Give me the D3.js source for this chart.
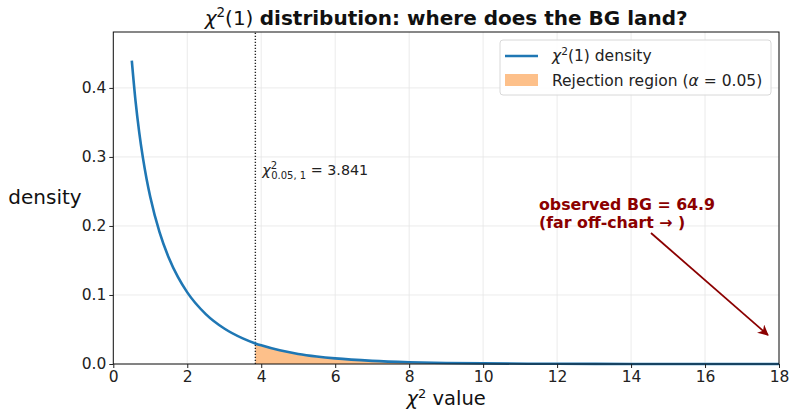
<!DOCTYPE html>
<html lang="en">
<head>
<meta charset="UTF-8">
<title>chi2 chart</title>
<script src="https://cdn.jsdelivr.net/npm/d3@7"></script>
<style>
  body { margin: 0; background: #fff; }
  svg text { font-family: "DejaVu Sans", sans-serif; }
</style>
</head>
<body>
<div id="chart"></div>
<script>
// density of chi2(1)
var xValues = [0.5, 0.6, 0.7, 0.8, 0.9, 1.0, 1.25, 1.5, 1.75, 2.0, 2.5, 3.0, 3.5, 3.841, 4.0, 4.5, 5.0, 5.5, 6.0, 7.0, 8.0, 9.0, 10.0, 12.0, 14.0, 16.0, 18.0];
var densityValues = [0.4394, 0.3815, 0.3360, 0.2990, 0.2681, 0.2420, 0.1910, 0.1539, 0.1257, 0.1038, 0.0723, 0.0514, 0.0371, 0.0298, 0.0270, 0.0198, 0.0146, 0.0109, 0.0081, 0.00455, 0.00258, 0.00148, 0.00085, 0.000286, 0.000097, 0.000033, 0.000012];
var xTicks = [0, 2, 4, 6, 8, 10, 12, 14, 16, 18];
var yTicks = [0.0, 0.1, 0.2, 0.3, 0.4];
var critical = 3.841;
var observedBG = 64.9;
var arrowTip = [17.7, 0.042];

var width = 790, height = 415;
var margin = {left: 113.3, right: 11, top: 32, bottom: 51};

var svg = d3.select('#chart').append('svg')
    .attr('width', width).attr('height', height);

var x = d3.scaleLinear().domain([0, 18]).range([margin.left, width - margin.right]);
var y = d3.scaleLinear().domain([0, 0.481]).range([height - margin.bottom, margin.top]);

var data = xValues.map(function (d, i) { return {x: d, y: densityValues[i]}; });

// grid
svg.append('g').selectAll('line').data(xTicks).join('line')
    .attr('x1', d => x(d)).attr('x2', d => x(d))
    .attr('y1', y.range()[0]).attr('y2', y.range()[1])
    .attr('stroke', '#e6e6e6').attr('stroke-width', 0.8);
svg.append('g').selectAll('line').data(yTicks).join('line')
    .attr('x1', x.range()[0]).attr('x2', x.range()[1])
    .attr('y1', d => y(d)).attr('y2', d => y(d))
    .attr('stroke', '#e6e6e6').attr('stroke-width', 0.8);

// rejection region
var tail = data.filter(d => d.x >= critical);
svg.append('path').datum(tail)
    .attr('fill', '#fdc08a')
    .attr('d', d3.area().x(d => x(d.x)).y0(y(0)).y1(d => y(d.y)).curve(d3.curveMonotoneX));

// critical value line
svg.append('line')
    .attr('x1', x(critical)).attr('x2', x(critical))
    .attr('y1', y.range()[0]).attr('y2', y.range()[1])
    .attr('stroke', '#222').attr('stroke-width', 1.4).attr('stroke-dasharray', '1.3,1.7');

// density curve
svg.append('path').datum(data)
    .attr('fill', 'none').attr('stroke', '#1f77b4').attr('stroke-width', 2.6)
    .attr('d', d3.line().x(d => x(d.x)).y(d => y(d.y)).curve(d3.curveMonotoneX));

// frame
svg.append('rect')
    .attr('x', x.range()[0]).attr('y', y.range()[1])
    .attr('width', x.range()[1] - x.range()[0]).attr('height', y.range()[0] - y.range()[1])
    .attr('fill', 'none').attr('stroke', '#111').attr('stroke-width', 1);

// axes
var xAxis = svg.append('g').attr('transform', 'translate(0,' + y(0) + ')')
    .call(d3.axisBottom(x).tickValues(xTicks).tickSize(4).tickPadding(3).tickFormat(d3.format('d')));
var yAxis = svg.append('g').attr('transform', 'translate(' + x(0) + ',0)')
    .call(d3.axisLeft(y).tickValues(yTicks).tickSize(4).tickPadding(3).tickFormat(d3.format('.1f')));
[xAxis, yAxis].forEach(function (a) {
    a.select('.domain').remove();
    a.selectAll('text').attr('font-size', 15.5).attr('fill', '#222')
        .attr('font-family', '"DejaVu Sans", sans-serif');
    a.selectAll('line').attr('stroke', '#222');
});

// title
var title = svg.append('text').attr('x', (x.range()[0] + x.range()[1]) / 2).attr('y', 25)
    .attr('text-anchor', 'middle').attr('font-size', 20).attr('fill', '#111');
title.append('tspan').attr('font-style', 'italic').text('χ');
title.append('tspan').attr('font-size', 13.5).attr('dy', -8).text('2');
title.append('tspan').attr('dy', 8).text('(1) ');
title.append('tspan').attr('font-weight', 'bold').text('distribution: where does the BG land?');

// axis labels
svg.append('text').attr('x', 45).attr('y', 204).attr('text-anchor', 'middle')
    .attr('font-size', 20).attr('fill', '#111').text('density');
var xl = svg.append('text').attr('x', (x.range()[0] + x.range()[1]) / 2).attr('y', 405)
    .attr('text-anchor', 'middle').attr('font-size', 19.5).attr('fill', '#111');
xl.append('tspan').attr('font-style', 'italic').text('χ');
xl.append('tspan').attr('font-size', 13).attr('dy', -7).text('2');
xl.append('tspan').attr('dy', 7).text(' value');

// critical label
var cl = svg.append('text').attr('x', x(critical) + 7).attr('y', 175)
    .attr('font-size', 14.3).attr('fill', '#222');
cl.append('tspan').attr('font-style', 'italic').text('χ');
cl.append('tspan').attr('font-size', 10).attr('dy', -6).text('2');
cl.append('tspan').attr('font-size', 10).attr('dx', -6).attr('dy', 10).text('0.05, 1');
cl.append('tspan').attr('dy', -4).text(' = ' + critical.toFixed(3));

// observed BG annotation
var red = '#8b0000';
svg.append('defs').append('marker').attr('id', 'ah')
    .attr('viewBox', '0 0 10 10').attr('refX', 9).attr('refY', 5)
    .attr('markerWidth', 6).attr('markerHeight', 6).attr('orient', 'auto')
    .append('path').attr('d', 'M0,0 L10,5 L0,10 L3,5 Z').attr('fill', red);
svg.append('line')
    .attr('x1', 651).attr('y1', 233)
    .attr('x2', x(arrowTip[0])).attr('y2', y(arrowTip[1]))
    .attr('stroke', red).attr('stroke-width', 1.8).attr('marker-end', 'url(#ah)');
var ann = svg.append('text').attr('x', 539).attr('y', 210)
    .attr('font-size', 15.8).attr('font-weight', 'bold').attr('fill', red);
ann.append('tspan').attr('x', 539).text('observed BG = ' + observedBG);
ann.append('tspan').attr('x', 539).attr('dy', 17.5).text('(far off-chart \u2192 )');

// legend
var lg = svg.append('g').attr('transform', 'translate(500,40)');
lg.append('rect').attr('width', 271).attr('height', 55).attr('rx', 3)
    .attr('fill', 'white').attr('fill-opacity', 0.85).attr('stroke', '#d8d8d8');
lg.append('line').attr('x1', 5).attr('x2', 38).attr('y1', 16).attr('y2', 16)
    .attr('stroke', '#1f77b4').attr('stroke-width', 2.6);
lg.append('rect').attr('x', 5).attr('y', 34).attr('width', 33).attr('height', 12).attr('fill', '#fdc08a');
var l1 = lg.append('text').attr('x', 52).attr('y', 21).attr('font-size', 15.5).attr('fill', '#222');
l1.append('tspan').attr('font-style', 'italic').text('χ');
l1.append('tspan').attr('font-size', 10.5).attr('dy', -6).text('2');
l1.append('tspan').attr('dy', 6).text('(1) density');
var l2 = lg.append('text').attr('x', 52).attr('y', 46).attr('font-size', 15.5).attr('fill', '#222');
l2.append('tspan').text('Rejection region (');
l2.append('tspan').attr('font-style', 'italic').text('α');
l2.append('tspan').text(' = 0.05)');
</script>
</body>
</html>
